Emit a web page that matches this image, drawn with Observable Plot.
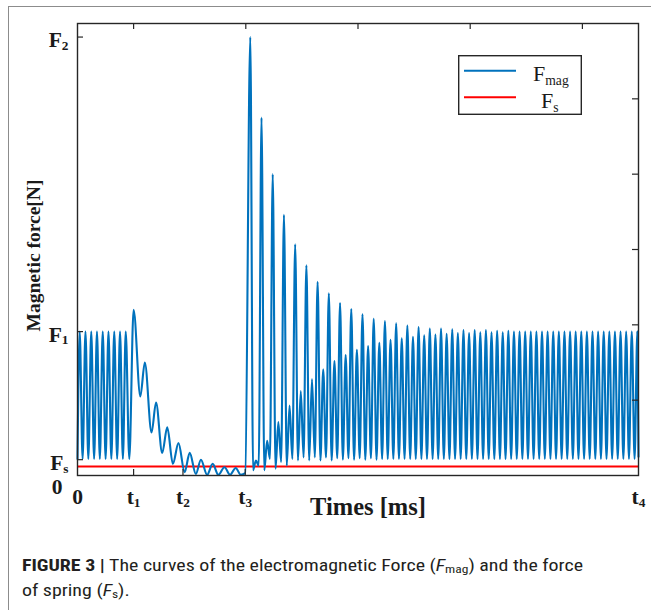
<!DOCTYPE html>
<html><head><meta charset="utf-8">
<script src="https://cdn.jsdelivr.net/npm/d3@7"></script>
<script src="https://cdn.jsdelivr.net/npm/@observablehq/plot@0.6"></script>
<style>
body{margin:0;background:#fff;width:651px;height:610px;overflow:hidden;position:relative}
#border{position:absolute;left:8px;top:6px;width:700px;height:700px;border-top:1.5px solid #8c8c8c;border-left:1.5px solid #8c8c8c}
#chart{position:absolute;left:0;top:0}
#legend{position:absolute;left:458px;top:55px}
#caption{position:absolute;left:22px;top:553px;font-family:"Liberation Sans Narrow","Arial Narrow","Roboto Condensed","Liberation Sans",sans-serif;font-size:16px;line-height:25px;color:#231f20;white-space:nowrap;transform-origin:0 0}
#caption sub{font-size:0.68em;vertical-align:-0.2em;line-height:0}
</style></head>
<body>
<div id="border"></div>
<div id="chart"></div>
<div id="legend"></div>
<div id="caption"><span id="cl1"><b>FIGURE 3 |</b> The curves of the electromagnetic Force (<i>F</i><sub>mag</sub>) and the force</span><br><span>of spring (<i>F</i><sub>s</sub>).</span></div>
<script>
// ---- axis settings / tick labels ----
const xDomain = [0, 10];
const yDomain = [0, 6];
const xTickValues = [0, 1, 1.88, 2.99, 10];
const xTickLabels = ["0", "t_1", "t_2", "t_3", "t_4"];
const bottomInnerTicks = [1, 1.88, 2.99];
const yTickValues = [0, 0.21, 1.91, 5.82];
const yTickLabels = ["0", "F_s", "F_1", "F_2"];
const leftInnerTicks = [0.21, 1.91, 5.82];
const topInnerTicks = [1, 3, 5, 7, 9];
const rightInnerTicks = [1, 2, 3, 4, 5];
const xLabel = "Times [ms]";
const yLabel = "Magnetic force[N]";

// ---- series: spring force (constant) ----
const springForce = 0.12;

// ---- series: magnetic force, extrema ----
const fmagTime = [
  // steady oscillation before t1
  0, 0.039, 0.091, 0.142, 0.193, 0.245, 0.296, 0.347, 0.398, 0.450,
  0.501, 0.552, 0.603, 0.655, 0.707, 0.758, 0.809, 0.860, 0.923,
  // damped oscillation t1..t3
  1.00, 1.12, 1.20, 1.32, 1.40, 1.51, 1.60, 1.70, 1.80, 1.91,
  2.00, 2.11, 2.20, 2.31, 2.41, 2.51, 2.62, 2.72, 2.82, 2.91, 2.99,
  // after t3
  3.08,3.13,3.18,3.23,3.28,3.33,3.38,3.43,3.48,3.53,
  3.58,3.63,3.68,3.73,3.78,3.83,3.88,3.93,3.98,4.03,
  4.08,4.13,4.18,4.23,4.28,4.33,4.38,4.43,4.48,4.53,
  4.58,4.63,4.68,4.73,4.78,4.83,4.88,4.93,4.98,5.03,
  5.08,5.13,5.18,5.23,5.28,5.33,5.38,5.43,5.48,5.53,
  5.58,5.63,5.68,5.73,5.78,5.83,5.88,5.93,5.98,6.03,
  6.08,6.13,6.18,6.23,6.28,6.33,6.38,6.43,6.48,6.53,
  6.58,6.63,6.68,6.73,6.78,6.83,6.88,6.93,6.98,7.03,
  7.08,7.13,7.18,7.23,7.28,7.33,7.38,7.43,7.48,7.53,
  7.58,7.63,7.68,7.73,7.78,7.83,7.88,7.93,7.98,8.03,
  8.08,8.13,8.18,8.23,8.28,8.33,8.38,8.43,8.48,8.53,
  8.58,8.63,8.68,8.73,8.78,8.83,8.88,8.93,8.98,9.03,
  9.08,9.13,9.18,9.23,9.28,9.33,9.38,9.43,9.48,9.53,
  9.58,9.63,9.68,9.73,9.78,9.83,9.88,9.93,9.98,
  10.0
];
const fmagForce = [
  0.22, 1.91, 0.22, 1.91, 0.22, 1.91, 0.22, 1.91, 0.22, 1.91,
  0.22, 1.91, 0.22, 1.91, 0.22, 1.91, 0.22, 1.91, 0.22,
  2.20, 1.05, 1.50, 0.57, 0.97, 0.30, 0.64, 0.155, 0.43, 0.044,
  0.30, 0.02, 0.21, 0.01, 0.155, 0.01, 0.11, 0.01, 0.10, 0.01, 0.03,
  5.82,0.07, 0.20,0.13, 4.75,0.07, 0.46,0.22, 4.00,0.09,
  0.71,0.18, 3.46,0.13, 0.93,0.22, 3.07,0.20, 1.12,0.24,
  2.79,0.20, 1.28,0.24, 2.57,0.20, 1.41,0.24, 2.42,0.20,
  1.52,0.23, 2.29,0.21, 1.60,0.23, 2.21,0.21, 1.67,0.23,
  2.14,0.21, 1.72,0.23, 2.08,0.21, 1.76,0.22, 2.05,0.22,
  1.80,0.22, 2.02,0.22, 1.82,0.22, 1.99,0.22, 1.84,0.22,
  1.97,0.22, 1.86,0.22, 1.95,0.22, 1.87,0.22, 1.95,0.22,
  1.88,0.22, 1.94,0.22, 1.89,0.22, 1.93,0.22, 1.89,0.22,
  1.93,0.22, 1.90,0.22, 1.93,0.22, 1.90,0.22, 1.92,0.22,
  1.90,0.22, 1.92,0.22, 1.91,0.22, 1.91,0.22, 1.91,0.22,
  1.91,0.22, 1.91,0.22, 1.91,0.22, 1.91,0.22, 1.91,0.22,
  1.91,0.22, 1.91,0.22, 1.91,0.22, 1.91,0.22, 1.91,0.22,
  1.91,0.22, 1.91,0.22, 1.91,0.22, 1.91,0.22, 1.91,0.22,
  1.91,0.22, 1.91,0.22, 1.91,0.22, 1.91,0.22, 1.91,
  0.25
];

// ---- legend ----
const legendLabels = ["F_mag", "F_s"];
const legendColors = ["#0072BD", "#FF0000"];

// ---- build ----
const W = 651, H = 530;
const mL = 77, mR = 13, mT = 23, mB = 55;
const innerW = W - mL - mR, innerH = H - mT - mB;
const fmag = fmagTime.map((t, i) => ({t, f: fmagForce[i]}));
const serif = "'Liberation Serif','Times New Roman',serif";
const frameColor = "#262626";
const ink = "#1a1a1a";
const fmtX = d => xTickLabels[xTickValues.indexOf(d)];
const fmtY = d => yTickLabels[yTickValues.indexOf(d)];
const tickFont = {fontSize: 21.5, fontWeight: "bold", fontFamily: serif, fill: ink};

const plot = Plot.plot({
  width: W, height: H,
  marginLeft: mL, marginRight: mR, marginTop: mT, marginBottom: mB,
  style: {fontFamily: serif, color: ink, background: "transparent"},
  x: {domain: xDomain},
  y: {domain: yDomain},
  marks: [
    Plot.ruleY([springForce], {stroke: legendColors[1], strokeWidth: 2}),
    Plot.line(fmag, {x: "t", y: "f", stroke: legendColors[0], strokeWidth: 2.1, curve: "monotone-x"}),
    Plot.frame({stroke: frameColor, strokeWidth: 1.4}),
    Plot.ruleX(topInnerTicks, {x: d => d, insetBottom: innerH - 6, stroke: frameColor, strokeWidth: 1.2}),
    Plot.ruleX(bottomInnerTicks, {x: d => d, insetTop: innerH - 6, stroke: frameColor, strokeWidth: 1.2}),
    Plot.ruleY(leftInnerTicks, {y: d => d, insetRight: innerW - 6, stroke: frameColor, strokeWidth: 1.2}),
    Plot.ruleY(rightInnerTicks, {y: d => d, insetLeft: innerW - 6, stroke: frameColor, strokeWidth: 1.2}),
    Plot.axisX(xTickValues, {tickSize: 0, tickPadding: 13, tickFormat: fmtX, label: null, ...tickFont}),
    Plot.axisY(yTickValues.slice(2), {tickSize: 0, tickPadding: 9, tickFormat: fmtY, label: null, dy: 3, ...tickFont}),
    Plot.axisY(yTickValues.slice(1, 2), {tickSize: 0, tickPadding: 9, tickFormat: fmtY, label: null, dy: 3, ...tickFont}),
    Plot.axisY(yTickValues.slice(0, 1), {tickSize: 0, tickPadding: 15, tickFormat: fmtY, label: null, dy: 12, ...tickFont}),
    Plot.text([xLabel], {text: d => d, frameAnchor: "bottom", dy: 39, dx: 10, fontSize: 24.5, fontWeight: "bold", fontFamily: serif, fill: ink}),
    Plot.text([yLabel], {text: d => d, frameAnchor: "left", textAnchor: "middle", rotate: -90, dx: -44, dy: 6, fontSize: 19.5, fontWeight: "bold", fontFamily: serif, fill: ink})
  ]
});

const svgNS = "http://www.w3.org/2000/svg";
function subscriptify(root, shift) {
  root.querySelectorAll("text").forEach(t => {
    if (t.childElementCount === 0 && t.textContent.includes("_")) {
      const [a, b] = t.textContent.split("_");
      t.textContent = a;
      const ts = document.createElementNS(svgNS, "tspan");
      ts.setAttribute("font-size", "0.62em");
      ts.setAttribute("dy", shift);
      ts.textContent = b;
      t.appendChild(ts);
    }
  });
}
subscriptify(plot, "0.22em");
document.getElementById("chart").appendChild(plot);

// legend box
const lg = d3.select("#legend").append("svg").attr("width", 124).attr("height", 60);
lg.append("rect").attr("x", 0.7).attr("y", 0.7).attr("width", 122.6).attr("height", 58.6)
  .attr("fill", "#fff").attr("stroke", frameColor).attr("stroke-width", 1.4);
const rows = lg.selectAll("g").data(legendLabels).join("g")
  .attr("transform", (d, i) => `translate(0,${15.7 + i * 26.6})`);
rows.append("line").attr("x1", 6).attr("x2", 58).attr("stroke", (d, i) => legendColors[i]).attr("stroke-width", 2);
rows.append("text").attr("x", (d, i) => i === 0 ? 75 : 83).attr("y", 10.5)
  .attr("font-family", serif).attr("font-size", 22).attr("fill", ink)
  .text(d => d);
subscriptify(lg.node(), "0.3em");

// caption width fit
const cap = document.getElementById("caption");
const w1 = document.getElementById("cl1").getBoundingClientRect().width;
cap.style.transform = `scaleX(${561 / w1})`;
</script>
</body></html>
